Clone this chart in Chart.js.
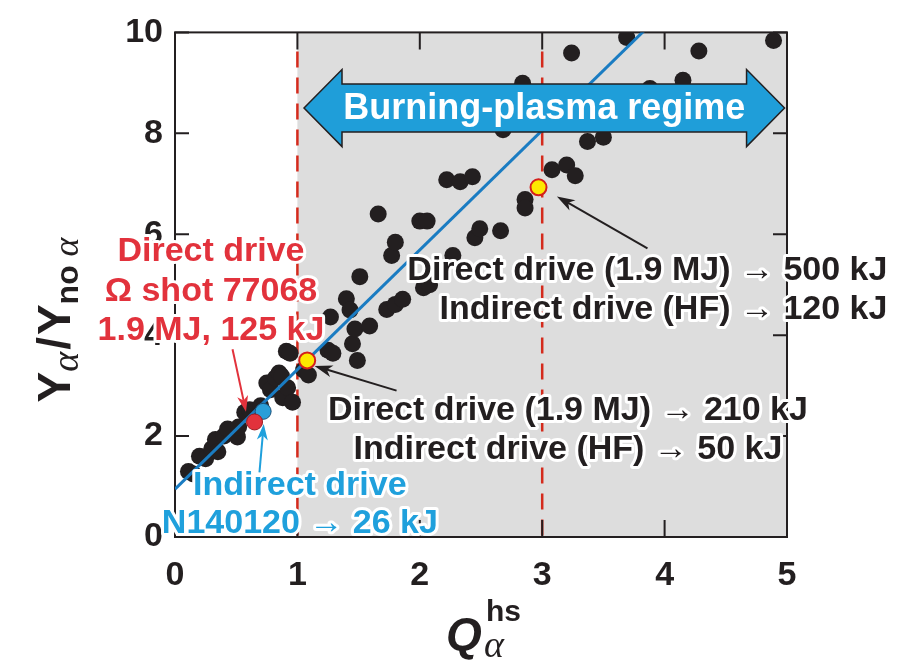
<!DOCTYPE html>
<html>
<head>
<meta charset="utf-8">
<script src="https://cdn.jsdelivr.net/npm/chart.js@4.4.0/dist/chart.umd.min.js"></script>
<style>
  html, body { margin: 0; padding: 0; background: #fff; }
  #wrap { width: 920px; height: 671px; }
</style>
</head>
<body>
<div id="wrap"><canvas id="grafico" width="920" height="671"></canvas></div>
<script>
// ticks
const xTicks = [0, 1, 2, 3, 4, 5];
const yTicks = [0, 2, 4, 6, 8, 10];

// implosions (black dots): Q_alpha^hs vs Y_alpha / Y_no alpha
const shotQ = [0.11, 0.15, 0.20, 0.25, 0.30, 0.33, 0.35, 0.40, 0.43, 0.51, 0.52, 0.57, 0.61, 0.70,
  0.75, 0.78, 0.82, 0.85, 0.87, 0.88, 0.91, 0.92, 0.94, 0.96, 1.05, 1.09, 1.25, 1.27, 1.29, 1.40,
  1.43, 1.45, 1.47, 1.49, 1.51, 1.59, 1.66, 1.73, 1.77, 1.80, 1.80, 1.86, 2.00, 2.03, 2.06, 2.08,
  2.22, 2.27, 2.33, 2.43, 2.45, 2.49, 2.66, 2.68, 2.84, 2.86, 2.86, 3.08, 3.20, 3.24, 3.27, 3.37,
  3.50, 3.69, 3.88, 4.15, 4.28, 4.89];
const shotRatio = [1.30, 1.25, 1.60, 1.55, 1.75, 1.93, 1.69, 2.00, 2.14, 1.98, 2.18, 2.47, 2.52, 2.60,
  3.05, 2.92, 3.15, 3.25, 3.19, 2.76, 3.68, 2.96, 3.64, 2.67, 3.31, 3.21, 3.70, 4.36, 3.64, 4.72,
  4.50, 3.83, 4.12, 3.50, 5.16, 4.18, 6.40, 4.51, 5.58, 4.61, 5.84, 4.71, 6.26, 4.94, 6.26, 5.00,
  7.08, 5.58, 7.04, 7.14, 5.93, 6.11, 6.07, 8.07, 8.99, 6.69, 6.52, 7.28, 7.37, 9.59, 7.16, 7.84,
  7.92, 9.90, 8.89, 9.05, 9.63, 9.84];

// fit line
const fitQ = [0, 5];
const fitRatio = [0.95, 12.8];

// highlighted shots
const omegaQ = [0.65];
const omegaRatio = [2.28];
const nifQ = [0.72];
const nifRatio = [2.49];
const scaledQ = [1.08, 2.97];
const scaledRatio = [3.50, 6.93];

const thresholds = [1, 3];
const regimeFrom = 1;

const ink = '#231f20';
const fam = "'Liberation Sans', Arial, sans-serif";
const red = '#e2323c';
const blue = '#1fa0dc';

const pts = (xs, ys) => xs.map((x, i) => ({ x, y: ys[i] }));

function haloText(ctx, txt, x, y, color, size, align) {
  ctx.save();
  ctx.font = `bold ${size}px ${fam}`;
  ctx.textAlign = align || 'center';
  ctx.textBaseline = 'middle';
  ctx.lineJoin = 'round';
  ctx.lineWidth = 6;
  ctx.strokeStyle = '#fff';
  ctx.strokeText(txt, x, y);
  ctx.fillStyle = color;
  ctx.fillText(txt, x, y);
  ctx.restore();
}

function seta(ctx, x1, y1, x2, y2, color, lw, hl, hw) {
  const a = Math.atan2(y2 - y1, x2 - x1);
  ctx.save();
  ctx.strokeStyle = color;
  ctx.fillStyle = color;
  ctx.lineWidth = lw;
  ctx.beginPath();
  ctx.moveTo(x1, y1);
  ctx.lineTo(x2 - Math.cos(a) * hl * 0.7, y2 - Math.sin(a) * hl * 0.7);
  ctx.stroke();
  ctx.translate(x2, y2);
  ctx.rotate(a);
  ctx.beginPath();
  ctx.moveTo(0, 0);
  ctx.lineTo(-hl, -hw / 2);
  ctx.lineTo(-hl * 0.72, 0);
  ctx.lineTo(-hl, hw / 2);
  ctx.closePath();
  ctx.fill();
  ctx.restore();
}

function runs(ctx, parts, x, y) {
  let w = 0;
  parts.forEach(p => { ctx.font = p.font; w += ctx.measureText(p.t).width + (p.gap || 0); });
  let cx = x - w / 2;
  parts.forEach(p => {
    ctx.font = p.font;
    ctx.fillText(p.t, cx, y + (p.dy || 0));
    cx += ctx.measureText(p.t).width + (p.gap || 0);
  });
}

const fundo = {
  id: 'fundo',
  beforeDatasetsDraw(chart) {
    const { ctx, chartArea: a, scales: { x, y } } = chart;
    ctx.save();
    // burning-plasma shading
    ctx.fillStyle = '#dddddd';
    const xs = x.getPixelForValue(regimeFrom);
    ctx.fillRect(xs, a.top, a.right - xs, a.bottom - a.top);
    // threshold lines
    ctx.strokeStyle = '#d42a1c';
    ctx.lineWidth = 2.5;
    ctx.setLineDash([16, 10]);
    thresholds.forEach(t => {
      const px = x.getPixelForValue(t);
      ctx.beginPath();
      ctx.moveTo(px, a.top + 19);
      ctx.lineTo(px, a.bottom);
      ctx.stroke();
    });
    ctx.setLineDash([]);
    // frame + inward ticks
    ctx.strokeStyle = ink;
    ctx.lineWidth = 2;
    ctx.strokeRect(a.left, a.top, a.right - a.left, a.bottom - a.top);
    ctx.beginPath();
    xTicks.forEach(v => {
      const px = x.getPixelForValue(v);
      ctx.moveTo(px, a.bottom); ctx.lineTo(px, a.bottom - 17);
      ctx.moveTo(px, a.top); ctx.lineTo(px, a.top + 17);
    });
    yTicks.forEach(v => {
      const py = y.getPixelForValue(v);
      ctx.moveTo(a.left, py); ctx.lineTo(a.left + 14, py);
      ctx.moveTo(a.right, py); ctx.lineTo(a.right - 14, py);
    });
    ctx.stroke();
    ctx.restore();
  },
  afterDatasetsDraw(chart) {
    const { ctx, scales: { x, y } } = chart;
    const X = v => x.getPixelForValue(v);
    const Y = v => y.getPixelForValue(v);
    ctx.save();

    // banner arrow
    const xl = X(1.054), xr = X(4.98), yc = Y(8.5);
    const hl = 38, hh = 38.5, bh = 24;
    ctx.beginPath();
    ctx.moveTo(xl, yc);
    ctx.lineTo(xl + hl, yc - hh);
    ctx.lineTo(xl + hl, yc - bh);
    ctx.lineTo(xr - hl, yc - bh);
    ctx.lineTo(xr - hl, yc - hh);
    ctx.lineTo(xr, yc);
    ctx.lineTo(xr - hl, yc + hh);
    ctx.lineTo(xr - hl, yc + bh);
    ctx.lineTo(xl + hl, yc + bh);
    ctx.lineTo(xl + hl, yc + hh);
    ctx.closePath();
    ctx.fillStyle = '#1f9ed9';
    ctx.fill();
    ctx.strokeStyle = ink;
    ctx.lineWidth = 1.5;
    ctx.stroke();
    ctx.fillStyle = '#fff';
    ctx.font = `bold 36px ${fam}`;
    ctx.textAlign = 'center';
    ctx.textBaseline = 'middle';
    ctx.fillText('Burning-plasma regime', (xl + xr) / 2, yc + 1);

    // arrows
    seta(ctx, X(0.47), Y(3.72), X(0.58), Y(2.48), red, 2, 16, 11);
    seta(ctx, X(0.69), Y(1.28), X(0.725), Y(2.24), blue, 2, 16, 11);
    seta(ctx, X(3.86), Y(5.72), X(3.12), Y(6.75), ink, 2, 18, 12);
    seta(ctx, X(1.81), Y(2.90), X(1.14), Y(3.39), ink, 2, 18, 12);

    // labels
    haloText(ctx, 'Direct drive', X(0.294), Y(5.66), red, 34);
    haloText(ctx, 'Ω shot 77068', X(0.294), Y(4.86), red, 34);
    haloText(ctx, '1.9 MJ, 125 kJ', X(0.294), Y(4.09), red, 34);
    haloText(ctx, 'Indirect drive', X(1.02), Y(1.02), blue, 34);
    haloText(ctx, 'N140120 → 26 kJ', X(1.02), Y(0.27), blue, 34);
    haloText(ctx, 'Direct drive (1.9 MJ) → 500 kJ', X(5.82), Y(5.27), ink, 34, 'right');
    haloText(ctx, 'Indirect drive (HF) → 120 kJ', X(5.82), Y(4.51), ink, 34, 'right');
    haloText(ctx, 'Direct drive (1.9 MJ) → 210 kJ', X(3.21), Y(2.51), ink, 34);
    haloText(ctx, 'Indirect drive (HF) → 50 kJ', X(3.21), Y(1.73), ink, 34);
    ctx.restore();
  },
  afterDraw(chart) {
    const { ctx } = chart;
    ctx.save();
    ctx.fillStyle = ink;
    ctx.textAlign = 'left';
    ctx.textBaseline = 'alphabetic';
    // x title Q_alpha^hs
    ctx.font = `italic bold 46px ${fam}`;
    ctx.fillText('Q', 446, 650);
    ctx.font = `bold 30px ${fam}`;
    ctx.fillText('hs', 486, 621);
    ctx.font = `italic 38px 'Liberation Serif', serif`;
    ctx.fillText('α', 484, 657);
    // y title Y_alpha / Y_no alpha
    ctx.translate(70, 320);
    ctx.rotate(-Math.PI / 2);
    runs(ctx, [
      { t: 'Y', font: `bold 46px ${fam}` },
      { t: 'α', font: `italic 38px 'Liberation Serif', serif`, dy: 8, gap: 2 },
      { t: '/', font: `bold 46px ${fam}`, gap: 2 },
      { t: 'Y', font: `bold 46px ${fam}` },
      { t: 'no ', font: `bold 32px ${fam}`, dy: 8 },
      { t: 'α', font: `italic 36px 'Liberation Serif', serif`, dy: 8 }
    ], 0, 0);
    ctx.restore();
  }
};

const tickFont = { family: fam, weight: 'bold', size: 34 };

new Chart(document.getElementById('grafico'), {
  type: 'scatter',
  data: {
    datasets: [
      { data: pts(scaledQ, scaledRatio), pointRadius: 8, backgroundColor: '#fde800', borderColor: '#d4201c', borderWidth: 2 },
      { data: pts(omegaQ, omegaRatio), pointRadius: 8, backgroundColor: red, borderColor: '#9b1c22', borderWidth: 1 },
      { data: pts(nifQ, nifRatio), pointRadius: 8, backgroundColor: '#2a9ed8', borderColor: '#1a4f78', borderWidth: 1 },
      { type: 'line', data: pts(fitQ, fitRatio), borderColor: '#1a7cc2', borderWidth: 3, pointRadius: 0, fill: false },
      { data: pts(shotQ, shotRatio), pointRadius: 8.5, backgroundColor: ink, borderWidth: 0 }
    ]
  },
  options: {
    responsive: false,
    animation: false,
    events: [],
    layout: { padding: { top: 23, right: 133, left: 0, bottom: 0 } },
    plugins: { legend: { display: false }, tooltip: { enabled: false } },
    scales: {
      x: {
        type: 'linear', min: 0, max: 5,
        afterBuildTicks: s => { s.ticks = xTicks.map(v => ({ value: v })); },
        afterFit: s => { s.height = 134; },
        grid: { display: false, drawTicks: false },
        border: { display: false },
        ticks: { font: tickFont, color: ink, padding: 18, maxRotation: 0 }
      },
      y: {
        type: 'linear', min: 0, max: 10,
        afterBuildTicks: s => { s.ticks = yTicks.map(v => ({ value: v })); },
        afterFit: s => { s.width = 175; },
        grid: { display: false, drawTicks: false },
        border: { display: false },
        ticks: { font: tickFont, color: ink, padding: 12 }
      }
    }
  },
  plugins: [fundo]
});
</script>
</body>
</html>
